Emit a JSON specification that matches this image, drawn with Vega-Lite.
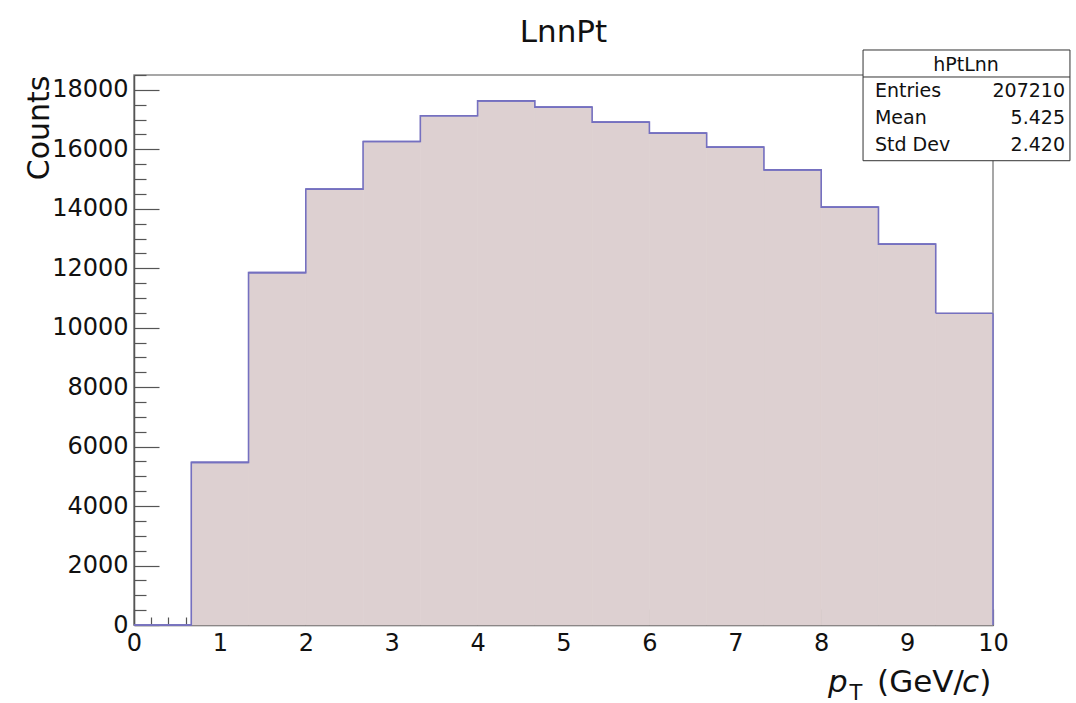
{
  "$schema": "https://vega.github.io/schema/vega-lite/v6.json",
  "width": 859,
  "height": 550,
  "autosize": "none",
  "padding": {"left": 134, "top": 75, "right": 83, "bottom": 78},
  "background": "white",
  "config": {
    "font": "DejaVu Sans",
    "view": {"stroke": "#8a8a8a", "strokeWidth": 1.5},
    "axis": {
      "grid": false,
      "zindex": 1,
      "domainColor": "#555555",
      "domainWidth": 1.5,
      "tickColor": "#555555",
      "tickWidth": 1.2,
      "labelFont": "DejaVu Sans",
      "labelFontSize": 24,
      "labelColor": "#111111",
      "titleFont": "DejaVu Sans",
      "titleFontWeight": "normal",
      "titleColor": "#111111"
    }
  },
  "title": {
    "text": "LnnPt",
    "font": "DejaVu Sans",
    "fontSize": 31,
    "fontWeight": "normal",
    "color": "#111111",
    "anchor": "middle",
    "frame": "group",
    "baseline": "alphabetic",
    "offset": -24
  },
  "datasets": {
    "bins": [
      {"lo": 0, "hi": 0.6667, "count": 0},
      {"lo": 0.6667, "hi": 1.3333, "count": 5470},
      {"lo": 1.3333, "hi": 2, "count": 11854},
      {"lo": 2, "hi": 2.6667, "count": 14660},
      {"lo": 2.6667, "hi": 3.3333, "count": 16262},
      {"lo": 3.3333, "hi": 4, "count": 17127},
      {"lo": 4, "hi": 4.6667, "count": 17631},
      {"lo": 4.6667, "hi": 5.3333, "count": 17419},
      {"lo": 5.3333, "hi": 6, "count": 16915},
      {"lo": 6, "hi": 6.6667, "count": 16545},
      {"lo": 6.6667, "hi": 7.3333, "count": 16073},
      {"lo": 7.3333, "hi": 8, "count": 15310},
      {"lo": 8, "hi": 8.6667, "count": 14055},
      {"lo": 8.6667, "hi": 9.3333, "count": 12810},
      {"lo": 9.3333, "hi": 10, "count": 10488}
    ],
    "stats": [
      {"label": "Entries", "value": "207210", "row": 17760},
      {"label": "Mean", "value": "5.425", "row": 16852},
      {"label": "Std Dev", "value": "2.420", "row": 15943}
    ],
    "xtitle": [
      {"piece": "p", "pos": 8.08, "style": "italic", "size": 31, "yb": -2250},
      {"piece": "T", "pos": 8.33, "style": "normal", "size": 21, "yb": -2530},
      {"piece": "(GeV/", "pos": 8.65, "style": "normal", "size": 31, "yb": -2250},
      {"piece": "c", "pos": 9.64, "style": "italic", "size": 31, "yb": -2250},
      {"piece": ")", "pos": 9.84, "style": "normal", "size": 31, "yb": -2250}
    ]
  },
  "layer": [
    {
      "data": {"name": "bins"},
      "mark": {"type": "rect", "fill": "#ddd0d1", "stroke": "#ddd0d1", "strokeWidth": 0.8},
      "encoding": {
        "x": {
          "field": "lo",
          "type": "quantitative",
          "scale": {"domain": [0, 10], "nice": false, "zero": false},
          "axis": {
            "title": null,
            "values": [0,0.2,0.4,0.6,0.8,1,1.2,1.4,1.6,1.8,2,2.2,2.4,2.6,2.8,3,3.2,3.4,3.6,3.8,4,4.2,4.4,4.6,4.8,5,5.2,5.4,5.6,5.8,6,6.2,6.4,6.6,6.8,7,7.2,7.4,7.6,7.8,8,8.2,8.4,8.6,8.8,9,9.2,9.4,9.6,9.8,10],
            "tickCount": 200,
            "tickMinStep": 0.01,
            "labelExpr": "abs(datum.value - round(datum.value)) < 0.000001 ? format(datum.value, 'd') : ''",
            "tickSize": {"condition": {"test": "abs(datum.value - round(datum.value)) < 0.000001", "value": -16}, "value": -8},
            "labelPadding": 22,
            "labelFlush": false,
            "labelOverlap": false
          }
        },
        "x2": {"field": "hi"},
        "y": {
          "field": "count",
          "type": "quantitative",
          "scale": {"domain": [0, 18500], "nice": false},
          "axis": {
            "title": "Counts",
            "titleFontSize": 30,
            "titleAngle": -90,
            "titleAnchor": "end",
            "titleAlign": "right",
            "titleBaseline": "alphabetic",
            "titleX": -86,
            "titleY": 0,
            "values": [0,500,1000,1500,2000,2500,3000,3500,4000,4500,5000,5500,6000,6500,7000,7500,8000,8500,9000,9500,10000,10500,11000,11500,12000,12500,13000,13500,14000,14500,15000,15500,16000,16500,17000,17500,18000,18500],
            "tickCount": 200,
            "format": "d",
            "labelExpr": "datum.value % 2000 === 0 ? datum.label : ''",
            "tickSize": {"condition": {"test": "datum.value % 2000 === 0", "value": -25}, "value": -12},
            "labelPadding": 31,
            "labelFlush": false,
            "labelOverlap": false
          }
        },
        "y2": {"datum": 0}
      }
    },
    {
      "data": {"name": "bins"},
      "mark": {"type": "line", "interpolate": "step-after", "color": "#7570c0", "strokeWidth": 1.6},
      "encoding": {
        "x": {"field": "lo", "type": "quantitative"},
        "y": {"field": "count", "type": "quantitative"}
      }
    },
    {
      "data": {"name": "bins"},
      "mark": {"type": "rule", "color": "#7570c0", "strokeWidth": 1.6},
      "encoding": {
        "x": {"field": "lo", "type": "quantitative"},
        "x2": {"field": "hi"},
        "y": {"field": "count", "type": "quantitative"}
      }
    },
    {
      "data": {"name": "bins"},
      "transform": [{"filter": "datum.hi === 10"}],
      "mark": {"type": "rule", "color": "#7570c0", "strokeWidth": 1.6},
      "encoding": {
        "x": {"field": "hi", "type": "quantitative"},
        "y": {"field": "count", "type": "quantitative"},
        "y2": {"datum": 0}
      }
    },
    {
      "data": {"values": [{"box": "hPtLnn"}]},
      "mark": {"type": "rect", "fill": "white", "stroke": "#333333", "strokeWidth": 1, "clip": false},
      "encoding": {
        "x": {"datum": 8.487, "type": "quantitative"},
        "x2": {"datum": 10.896},
        "y": {"datum": 19341, "type": "quantitative"},
        "y2": {"datum": 15617}
      }
    },
    {
      "data": {"values": [{"box": "hPtLnn"}]},
      "mark": {"type": "rule", "stroke": "#333333", "strokeWidth": 1, "clip": false},
      "encoding": {
        "x": {"datum": 8.487, "type": "quantitative"},
        "x2": {"datum": 10.896},
        "y": {"datum": 18433, "type": "quantitative"}
      }
    },
    {
      "data": {"values": [{"box": "hPtLnn"}]},
      "mark": {"type": "text", "font": "DejaVu Sans", "fontSize": 19, "color": "#111111", "align": "center", "baseline": "alphabetic", "clip": false},
      "encoding": {
        "x": {"datum": 9.686, "type": "quantitative"},
        "y": {"datum": 18634, "type": "quantitative"},
        "text": {"field": "box"}
      }
    },
    {
      "data": {"name": "stats"},
      "mark": {"type": "text", "font": "DejaVu Sans", "fontSize": 19, "color": "#111111", "align": "left", "baseline": "alphabetic", "clip": false},
      "encoding": {
        "x": {"datum": 8.626, "type": "quantitative"},
        "y": {"field": "row", "type": "quantitative"},
        "text": {"field": "label"}
      }
    },
    {
      "data": {"name": "stats"},
      "mark": {"type": "text", "font": "DejaVu Sans", "fontSize": 19, "color": "#111111", "align": "right", "baseline": "alphabetic", "clip": false},
      "encoding": {
        "x": {"datum": 10.838, "type": "quantitative"},
        "y": {"field": "row", "type": "quantitative"},
        "text": {"field": "value"}
      }
    },
    {
      "data": {"name": "xtitle"},
      "transform": [{"filter": "datum.style === 'italic'"}],
      "mark": {"type": "text", "font": "DejaVu Sans", "fontStyle": "italic", "color": "#111111", "align": "left", "baseline": "alphabetic", "clip": false},
      "encoding": {
        "x": {"field": "pos", "type": "quantitative"},
        "y": {"field": "yb", "type": "quantitative"},
        "text": {"field": "piece"},
        "size": {"field": "size", "type": "quantitative", "scale": null}
      }
    },
    {
      "data": {"name": "xtitle"},
      "transform": [{"filter": "datum.style === 'normal'"}],
      "mark": {"type": "text", "font": "DejaVu Sans", "fontStyle": "normal", "color": "#111111", "align": "left", "baseline": "alphabetic", "clip": false},
      "encoding": {
        "x": {"field": "pos", "type": "quantitative"},
        "y": {"field": "yb", "type": "quantitative"},
        "text": {"field": "piece"},
        "size": {"field": "size", "type": "quantitative", "scale": null}
      }
    }
  ]
}
